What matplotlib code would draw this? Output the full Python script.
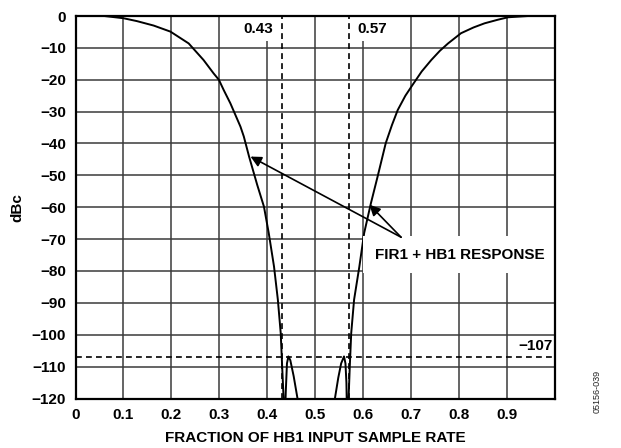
import matplotlib
matplotlib.use("Agg")
import matplotlib.pyplot as plt

plt.rcParams['font.family'] = ['Liberation Sans', 'DejaVu Sans']

# Response curve (fraction of HB1 input sample rate, dBc)
freq = [0.0, 0.06, 0.10, 0.128, 0.163, 0.198, 0.236, 0.267, 0.288, 0.299,
        0.309, 0.323, 0.344, 0.351, 0.362, 0.379, 0.393, 0.403, 0.414,
        0.422, 0.428, 0.431, 0.434,
        0.4365, 0.4385, 0.441, 0.444, 0.448, 0.455, 0.463, 0.470, 0.50,
        0.534, 0.541, 0.548, 0.554, 0.560, 0.563, 0.565, 0.5665, 0.5695,
        0.572, 0.575, 0.581, 0.592, 0.602, 0.616, 0.630, 0.647, 0.660,
        0.672, 0.688, 0.703, 0.722, 0.742, 0.760, 0.777, 0.804, 0.830,
        0.853, 0.880, 0.902, 0.944, 1.0]
resp = [0.0, 0.0, -0.7, -1.6, -3.0, -4.9, -8.6, -13.8, -18.0, -20.0,
        -23.2, -27.4, -34.7, -37.8, -44.1, -53.0, -59.8, -68.1, -78.6,
        -89.0, -99.5, -110.0, -120.0,
        -128.0, -118.0, -109.0, -106.8, -108.0, -113.0, -120.0, -128.0, -140.0,
        -128.0, -120.0, -113.5, -109.0, -106.8, -109.0, -115.0, -128.0, -120.0,
        -110.0, -99.5, -89.0, -78.6, -68.1, -58.8, -50.4, -39.9, -34.2,
        -29.5, -25.0, -21.6, -17.4, -13.8, -10.9, -8.6, -5.4, -3.6,
        -2.3, -1.2, -0.4, 0.0, 0.0]

band_edges = [0.43, 0.57]
band_labels = ["0.43", "0.57"]
stop_level = -107
stop_label = "\u2212107"
resp_label = "FIR1 + HB1 RESPONSE"

x_ticks = [0, 0.1, 0.2, 0.3, 0.4, 0.5, 0.6, 0.7, 0.8, 0.9]
x_ticklabels = ["0", "0.1", "0.2", "0.3", "0.4", "0.5", "0.6", "0.7", "0.8", "0.9"]
y_ticks = [0, -10, -20, -30, -40, -50, -60, -70, -80, -90, -100, -110, -120]
y_ticklabels = ["0"] + ["\u2212%d" % (-v) for v in y_ticks[1:]]

fig = plt.figure(figsize=(6.21, 4.48), dpi=100)
ax = fig.add_axes([75.5 / 621, 1 - 398.5 / 448, (555 - 75.5) / 621, (398.5 - 16) / 448])

ax.set_xlim(0, 1.0)
ax.set_ylim(-120, 0)
ax.set_xticks(x_ticks)
ax.set_xticklabels(x_ticklabels)
ax.set_yticks(y_ticks)
ax.set_yticklabels(y_ticklabels)
ax.tick_params(length=0, labelsize=11, pad=7)
for lab in ax.get_xticklabels() + ax.get_yticklabels():
    lab.set_fontweight('bold')

ax.set_axisbelow(True)
ax.grid(True, color='#3a3a3a', lw=1.1)
for s in ax.spines.values():
    s.set_linewidth(1.6)
    s.set_color('black')
    s.set_zorder(5)

ax.plot(freq, resp, color='black', lw=1.4, zorder=3, solid_joinstyle='round')

for xe in band_edges:
    ax.axvline(xe, color='black', lw=1.2, ls=(0, (3.5, 2.5)), zorder=3)
ax.axhline(stop_level, color='black', lw=1.2, ls=(0, (3.5, 2.5)), zorder=3)

txt_kw = dict(fontsize=11, fontweight='bold', ha='center', va='center', zorder=4)
ax.text(0.382, -4.1, band_labels[0],
        bbox=dict(boxstyle='square,pad=0.3', fc='white', ec='none'), **txt_kw)
ax.text(0.618, -4.1, band_labels[1],
        bbox=dict(boxstyle='square,pad=0.3', fc='white', ec='none'), **txt_kw)
ax.text(0.9586, -103.4, stop_label, **txt_kw)

ax.text(0.801, -74.9, resp_label,
        bbox=dict(boxstyle='square,pad=0.75', fc='white', ec='none'), **txt_kw)

arrow_kw = dict(arrowstyle='-|>', mutation_scale=16, lw=1.2, color='black',
                shrinkA=0, shrinkB=0)
ax.annotate('', xy=(0.365, -44.1), xytext=(0.679, -69.4),
            arrowprops=arrow_kw, zorder=4)
ax.annotate('', xy=(0.613, -59.2), xytext=(0.679, -69.4),
            arrowprops=arrow_kw, zorder=4)

ax.set_xlabel("FRACTION OF HB1 INPUT SAMPLE RATE", fontsize=11, fontweight='bold', labelpad=6)
ax.set_ylabel("dBc", fontsize=11, fontweight='bold', labelpad=5)

fig.text(597 / 621, 1 - 391 / 448, "05156-039", rotation=90, fontsize=6.5,
         ha='center', va='center', color='#222222')

fig.savefig("out.png", dpi=100)
